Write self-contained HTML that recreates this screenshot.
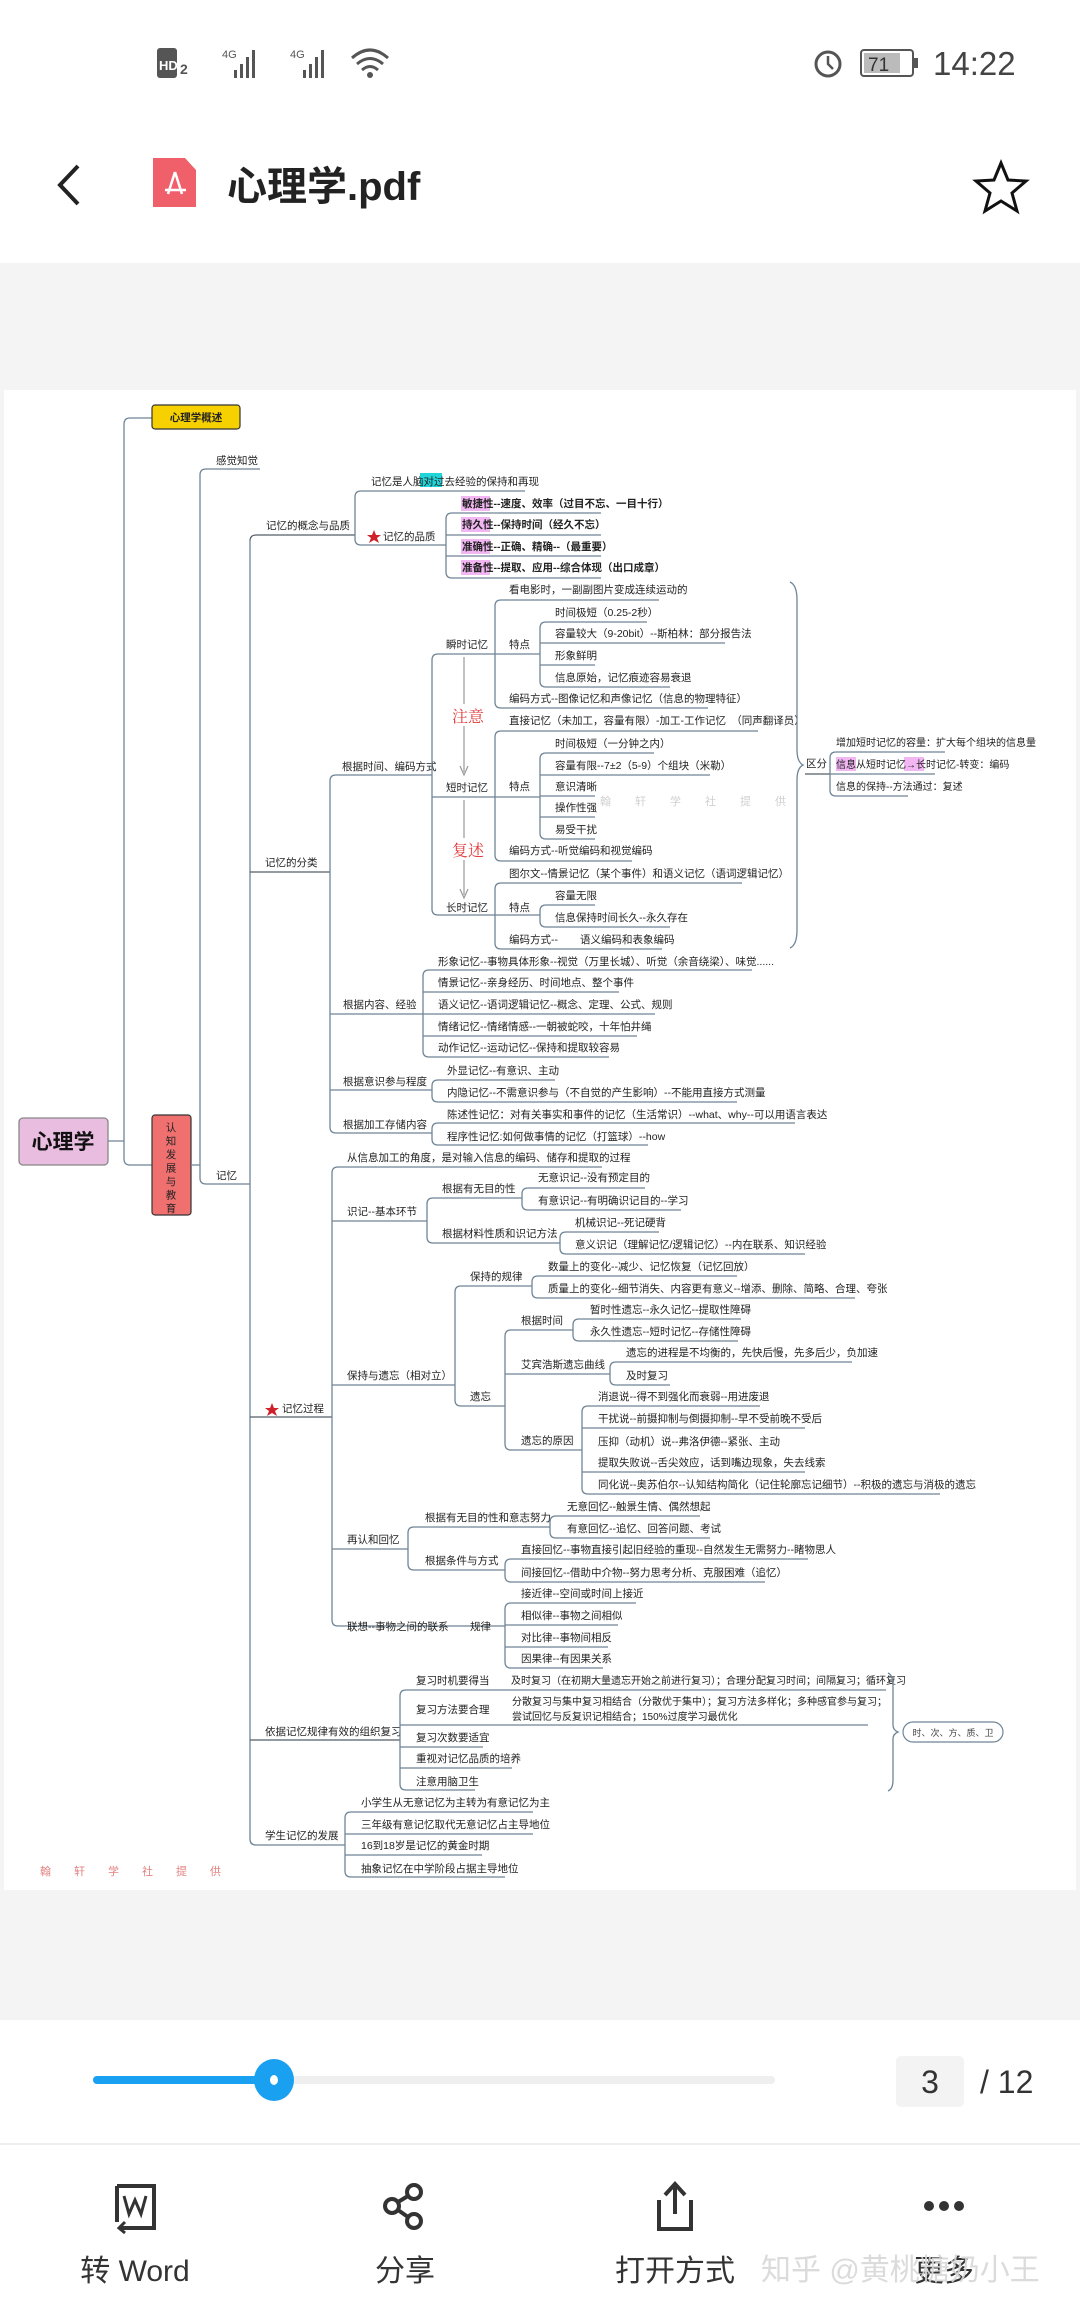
<!DOCTYPE html>
<html><head><meta charset="utf-8"><style>
html,body{margin:0;padding:0;background:#fff;width:1080px;height:2310px;overflow:hidden}
svg{display:block}
.t{font-family:"Liberation Sans","Noto Sans CJK SC",sans-serif;font-size:10.5px;fill:#222}
.b{font-weight:bold}
.l{stroke:#6f8596;stroke-width:1.3;fill:none}
.u{stroke:#555f68;stroke-width:1.2;fill:none}
.ui{font-family:"Liberation Sans","Noto Sans CJK SC",sans-serif}
</style></head><body>
<svg width="1080" height="2310" viewBox="0 0 1080 2310" xmlns="http://www.w3.org/2000/svg">
<rect x="157" y="48" width="20" height="30" rx="3" fill="#555"/>
<text x="159" y="70" class="ui" font-size="13" font-weight="bold" fill="#fff">HD</text>
<text x="180" y="74" class="ui" font-size="14" font-weight="bold" fill="#555">2</text>
<text x="222" y="58" class="ui" font-size="11" fill="#555">4G</text>
<g fill="#555"><rect x="234" y="70" width="3" height="8"/><rect x="240" y="64" width="3" height="14"/><rect x="246" y="57" width="3" height="21"/><rect x="252" y="50" width="3" height="28"/></g>
<text x="290" y="58" class="ui" font-size="11" fill="#555">4G</text>
<g fill="#555"><rect x="303" y="70" width="3" height="8"/><rect x="309" y="64" width="3" height="14"/><rect x="315" y="57" width="3" height="21"/><rect x="321" y="50" width="3" height="28"/></g>
<path d="M352 58 Q370 42 388 58 M357 64 Q370 53 383 64 M362 70 Q370 63 378 70" stroke="#555" stroke-width="3" fill="none"/>
<circle cx="370" cy="75" r="3" fill="#555"/>
<circle cx="828" cy="64" r="12" stroke="#555" stroke-width="3" fill="none"/>
<path d="M828 56 V64 L833 69" stroke="#555" stroke-width="2.5" fill="none"/>
<rect x="861" y="50" width="52" height="26" rx="3" stroke="#555" stroke-width="2" fill="none"/>
<rect x="864" y="53" width="36" height="20" fill="#bbb"/>
<rect x="914" y="58" width="4" height="10" fill="#555"/>
<text x="868" y="71" class="ui" font-size="19" fill="#333">71</text>
<text x="933" y="75" class="ui" font-size="33" fill="#444">14:22</text>
<path d="M78 166 L60 185 L78 204" stroke="#222" stroke-width="4" fill="none"/>
<path d="M153 158 H185 L196 170 V207 H153 Z" fill="#f0606a"/>
<path d="M175 172 L168 194 M175 172 L182 194 M165 190 L186 190" stroke="#fff" stroke-width="2.5" fill="none"/>
<text x="227" y="200" class="ui" font-size="40" font-weight="bold" fill="#222">心理学.pdf</text>
<path d="M1001 163 L1008 180 L1026 181 L1012 193 L1017 211 L1001 201 L985 211 L990 193 L976 181 L994 180 Z" stroke="#111" stroke-width="3" fill="none"/>
<rect x="0" y="263" width="1080" height="1757" fill="#f4f4f4"/>
<rect x="4" y="390" width="1072" height="1500" fill="#fff"/>

<rect x="19" y="1118" width="89" height="47" rx="4" fill="#e8bde0" stroke="#888" stroke-width="1.3"/>
<text x="63" y="1149" text-anchor="middle" class="t b" style="font-size:21px;fill:#111">心理学</text>
<path class="l" d="M108 1141 H124 M124 424 Q124 418 130 418 H152 M124 424 V1159 Q124 1165 130 1165 H152"/>
<rect x="152" y="405" width="88" height="24" rx="3" fill="#f7d000" stroke="#333" stroke-width="1.2"/>
<text x="196" y="421" text-anchor="middle" class="t b">心理学概述</text>
<rect x="152" y="1115" width="39" height="100" rx="3" fill="#f07070" stroke="#333" stroke-width="1.2"/>
<g class="t" text-anchor="middle" style="font-size:10.5px">
<text x="171" y="1131">认</text><text x="171" y="1144.5">知</text><text x="171" y="1158">发</text><text x="171" y="1171.5">展</text><text x="171" y="1185">与</text><text x="171" y="1198.5">教</text><text x="171" y="1212">育</text></g>
<path class="l" d="M191 1165 H200 M200 475 Q200 469 206 469 H260 M200 475 V1178 Q200 1184 206 1184 H250"/>
<text x="216" y="464" class="t">感觉知觉</text>
<text x="216" y="1179" class="t">记忆</text>
<path class="l" d="M250 541 V1839 Q250 1845 256 1845 H345"/>
<path class="u" d="M250 541 Q250 535 256 535 H355"/>
<text x="266" y="529" class="t">记忆的概念与品质</text>
<path class="u" d="M250 872 H330"/><text x="265" y="866" class="t">记忆的分类</text>
<path class="u" d="M250 1417 H332"/>
<polygon points="272,1403 274,1408 279,1408 275,1411 277,1416 272,1413 267,1416 269,1411 265,1408 270,1408" fill="#d0202a"/>
<text x="282" y="1412" class="t">记忆过程</text>
<path class="u" d="M250 1740 H400"/><text x="265" y="1735" class="t">依据记忆规律有效的组织复习</text>
<text x="265" y="1839" class="t">学生记忆的发展</text>

<path class="l" d="M355 497 Q355 491 361 491 H525 M355 497 V539 Q355 545 361 545 H446"/>
<rect x="420" y="473" width="22" height="14" fill="#21d4d8"/>
<text x="371" y="485" class="t">记忆是人脑对过去经验的保持和再现</text>
<polygon points="374,530 376,535 381,535 377,538 379,543 374,540 369,543 371,538 367,535 372,535" fill="#d0202a"/>
<text x="383" y="540" class="t">记忆的品质</text>
<path class="l" d="M446 519 Q446 513 452 513 H601 M446 519 V572 Q446 578 452 578 H601 M446 535 H601 M446 556 H601"/>
<rect x="461" y="496" width="29" height="15" fill="#f2b6f2"/><rect x="461" y="517" width="29" height="15" fill="#f2b6f2"/>
<rect x="461" y="539" width="29" height="15" fill="#f2b6f2"/><rect x="461" y="560" width="29" height="15" fill="#f2b6f2"/>
<text x="462" y="507" class="t b">敏捷性--速度、效率（过目不忘、一目十行）</text>
<text x="462" y="528" class="t b">持久性--保持时间（经久不忘）</text>
<text x="462" y="550" class="t b">准确性--正确、精确--（最重要）</text>
<text x="462" y="571" class="t b">准备性--提取、应用--综合体现（出口成章）</text>

<path class="l" d="M330 781 Q330 775 336 775 H432 M330 781 V1127 Q330 1133 336 1133 H432 M330 1014 H423 M330 1090 H432"/>
<text x="342" y="770" class="t">根据时间、编码方式</text>
<text x="343" y="1008" class="t">根据内容、经验</text>
<text x="343" y="1085" class="t">根据意识参与程度</text>
<text x="343" y="1128" class="t">根据加工存储内容</text>

<path class="l" d="M432 660 Q432 654 438 654 H495 M432 660 V909 Q432 915 438 915 H495 M432 797 H495"/>
<text x="446" y="648" class="t">瞬时记忆</text>
<text x="446" y="791" class="t">短时记忆</text>
<text x="446" y="911" class="t">长时记忆</text>
<path d="M464 657 V772 M464 800 V895" stroke="#999" stroke-width="1.2"/>
<path d="M460 766 L464 775 L468 766 M460 889 L464 898 L468 889" stroke="#999" stroke-width="1.2" fill="none"/>
<rect x="450" y="704" width="34" height="22" fill="#fff"/><rect x="450" y="838" width="34" height="22" fill="#fff"/>
<text x="452" y="722" style="font-family:'Liberation Serif','Noto Serif CJK SC',serif;font-size:16px;fill:#e23b3b">注意</text>
<text x="452" y="856" style="font-family:'Liberation Serif','Noto Serif CJK SC',serif;font-size:16px;fill:#e23b3b">复述</text>
<path class="l" d="M495 606 Q495 600 501 600 H659 M495 606 V702 Q495 708 501 708 H708 M495 654 H540"/>
<text x="509" y="593" class="t">看电影时，一副副图片变成连续运动的</text>
<text x="509" y="648" class="t">特点</text>
<text x="509" y="702" class="t">编码方式--图像记忆和声像记忆（信息的物理特征）</text>
<path class="l" d="M540 628 Q540 622 546 622 H647 M540 628 V681 Q540 687 546 687 H670 M540 643 H725 M540 665 H595"/>
<text x="555" y="616" class="t">时间极短（0.25-2秒）</text>
<text x="555" y="637" class="t">容量较大（9-20bit）--斯柏林：部分报告法</text>
<text x="555" y="659" class="t">形象鲜明</text>
<text x="555" y="681" class="t">信息原始，记忆痕迹容易衰退</text>
<path class="l" d="M495 737 Q495 731 501 731 H758 M495 737 V855 Q495 861 501 861 H632 M495 797 H540"/>
<text x="509" y="724" class="t">直接记忆（未加工，容量有限）-加工-工作记忆　（同声翻译员）</text>
<text x="509" y="790" class="t">特点</text>
<text x="509" y="854" class="t">编码方式--听觉编码和视觉编码</text>
<path class="l" d="M540 759 Q540 753 546 753 H654 M540 759 V833 Q540 839 546 839 H595 M540 775 H710 M540 796 H595 M540 817 H595"/>
<text x="555" y="747" class="t">时间极短（一分钟之内）</text>
<text x="555" y="769" class="t">容量有限--7±2（5-9）个组块（米勒）</text>
<text x="555" y="790" class="t">意识清晰</text>
<text x="555" y="811" class="t">操作性强</text>
<text x="555" y="833" class="t">易受干扰</text>
<path class="l" d="M495 889 Q495 883 501 883 H742 M495 889 V943 Q495 949 501 949 H662 M495 915 H540"/>
<text x="509" y="877" class="t">图尔文--情景记忆（某个事件）和语义记忆（语词逻辑记忆）</text>
<text x="509" y="911" class="t">特点</text>
<text x="509" y="943" class="t">编码方式--</text><text x="580" y="943" class="t">语义编码和表象编码</text>
<path class="l" d="M540 911 Q540 905 546 905 H595 M540 911 V921 Q540 927 546 927 H670"/>
<text x="555" y="899" class="t">容量无限</text>
<text x="555" y="921" class="t">信息保持时间长久--永久存在</text>
<path class="l" d="M790 582 Q797 585 797 600 V750 Q797 762 803 765 Q797 768 797 780 V930 Q797 945 790 948"/>
<path class="u" d="M805 774 H830"/><text x="806" y="767" class="t">区分</text>
<path class="l" d="M830 758 Q830 752 836 752 H945 M830 758 V790 Q830 796 836 796 H908 M830 774 H935"/>
<rect x="836" y="757" width="20" height="14" fill="#f2b6f2"/><rect x="904" y="757" width="20" height="14" fill="#f2b6f2"/>
<text x="836" y="746" class="t" style="font-size:10px">增加短时记忆的容量：扩大每个组块的信息量</text>
<text x="836" y="768" class="t" style="font-size:10px">信息从短时记忆→长时记忆-转变：编码</text>
<text x="836" y="790" class="t" style="font-size:10px">信息的保持--方法通过：复述</text>

<path class="l" d="M423 976 Q423 970 429 970 H752 M423 976 V1051 Q423 1057 429 1057 H609 M423 992 H619 M423 1014 H655 M423 1036 H637"/>
<text x="438" y="965" class="t">形象记忆--事物具体形象--视觉（万里长城）、听觉（余音绕梁）、味觉......</text>
<text x="438" y="986" class="t">情景记忆--亲身经历、时间地点、整个事件</text>
<text x="438" y="1008" class="t">语义记忆--语词逻辑记忆--概念、定理、公式、规则</text>
<text x="438" y="1030" class="t">情绪记忆--情绪情感--一朝被蛇咬，十年怕井绳</text>
<text x="438" y="1051" class="t">动作记忆--运动记忆--保持和提取较容易</text>
<path class="l" d="M432 1086 Q432 1080 438 1080 H555 M432 1086 V1096 Q432 1102 438 1102 H737"/>
<text x="447" y="1074" class="t">外显记忆--有意识、主动</text>
<text x="447" y="1096" class="t">内隐记忆--不需意识参与（不自觉的产生影响）--不能用直接方式测量</text>
<path class="l" d="M432 1129 Q432 1123 438 1123 H795 M432 1129 V1139 Q432 1145 438 1145 H648"/>
<text x="447" y="1118" class="t">陈述性记忆：对有关事实和事件的记忆（生活常识）--what、why--可以用语言表达</text>
<text x="447" y="1140" class="t">程序性记忆:如何做事情的记忆（打篮球）--how</text>

<path class="l" d="M332 1173 Q332 1167 338 1167 H602 M332 1173 V1620 Q332 1626 338 1626 H505 M332 1221 H427 M332 1385 H455 M332 1549 H408"/>
<text x="347" y="1161" class="t">从信息加工的角度，是对输入信息的编码、储存和提取的过程</text>
<text x="347" y="1215" class="t">识记--基本环节</text>
<text x="347" y="1379" class="t">保持与遗忘（相对立）</text>
<text x="347" y="1543" class="t">再认和回忆</text>
<text x="347" y="1630" class="t">联想--事物之间的联系</text>
<text x="470" y="1630" class="t">规律</text>
<path class="l" d="M427 1204 Q427 1198 433 1198 H522 M427 1204 V1237 Q427 1243 433 1243 H560"/>
<text x="442" y="1192" class="t">根据有无目的性</text>
<text x="442" y="1237" class="t">根据材料性质和识记方法</text>
<path class="l" d="M522 1194 Q522 1188 528 1188 H645 M522 1194 V1204 Q522 1210 528 1210 H681"/>
<text x="538" y="1181" class="t">无意识记--没有预定目的</text>
<text x="538" y="1204" class="t">有意识记--有明确识记目的--学习</text>
<path class="l" d="M560 1238 Q560 1232 566 1232 H659 M560 1238 V1248 Q560 1254 566 1254 H805"/>
<text x="575" y="1226" class="t">机械识记--死记硬背</text>
<text x="575" y="1248" class="t">意义识记（理解记忆/逻辑记忆）--内在联系、知识经验</text>
<path class="l" d="M455 1292 Q455 1286 461 1286 H532 M455 1292 V1400 Q455 1406 461 1406 H505"/>
<text x="470" y="1280" class="t">保持的规律</text>
<text x="470" y="1400" class="t">遗忘</text>
<path class="l" d="M532 1282 Q532 1276 538 1276 H737 M532 1282 V1292 Q532 1298 538 1298 H855"/>
<text x="548" y="1270" class="t">数量上的变化--减少、记忆恢复（记忆回放）</text>
<text x="548" y="1292" class="t">质量上的变化--细节消失、内容更有意义--增添、删除、简略、合理、夸张</text>
<path class="l" d="M505 1336 Q505 1330 511 1330 H573 M505 1336 V1444 Q505 1450 511 1450 H582 M505 1374 H610"/>
<text x="521" y="1324" class="t">根据时间</text>
<text x="521" y="1368" class="t">艾宾浩斯遗忘曲线</text>
<text x="521" y="1444" class="t">遗忘的原因</text>
<path class="l" d="M573 1325 Q573 1319 579 1319 H741 M573 1325 V1335 Q573 1341 579 1341 H738"/>
<text x="590" y="1313" class="t">暂时性遗忘--永久记忆--提取性障碍</text>
<text x="590" y="1335" class="t">永久性遗忘--短时记忆--存储性障碍</text>
<path class="l" d="M610 1368 Q610 1362 616 1362 H852 M610 1368 V1379 Q610 1385 616 1385 H670"/>
<text x="626" y="1356" class="t">遗忘的进程是不均衡的，先快后慢，先多后少，负加速</text>
<text x="626" y="1379" class="t">及时复习</text>
<path class="l" d="M582 1412 Q582 1406 588 1406 H760 M582 1412 V1488 Q582 1494 588 1494 H940 M582 1428 H805 M582 1472 H805"/>
<text x="598" y="1400" class="t">消退说--得不到强化而衰弱--用进废退</text>
<text x="598" y="1422" class="t">干扰说--前摄抑制与倒摄抑制--早不受前晚不受后</text>
<text x="598" y="1445" class="t">压抑（动机）说--弗洛伊德--紧张、主动</text>
<text x="598" y="1466" class="t">提取失败说--舌尖效应，话到嘴边现象，失去线索</text>
<text x="598" y="1488" class="t">同化说--奥苏伯尔--认知结构简化（记住轮廓忘记细节）--积极的遗忘与消极的遗忘</text>
<path class="l" d="M408 1533 Q408 1527 414 1527 H550 M408 1533 V1564 Q408 1570 414 1570 H505"/>
<text x="425" y="1521" class="t">根据有无目的性和意志努力</text>
<text x="425" y="1564" class="t">根据条件与方式</text>
<path class="l" d="M550 1522 Q550 1516 556 1516 H700 M550 1522 V1532 Q550 1538 556 1538 H710"/>
<text x="567" y="1510" class="t">无意回忆--触景生情、偶然想起</text>
<text x="567" y="1532" class="t">有意回忆--追忆、回答问题、考试</text>
<path class="l" d="M505 1565 Q505 1559 511 1559 H808 M505 1565 V1576 Q505 1582 511 1582 H765"/>
<text x="521" y="1553" class="t">直接回忆--事物直接引起旧经验的重现--自然发生无需努力--睹物思人</text>
<text x="521" y="1576" class="t">间接回忆--借助中介物--努力思考分析、克服困难（追忆）</text>
<path class="l" d="M505 1609 Q505 1603 511 1603 H636 M505 1609 V1662 Q505 1668 511 1668 H603 M505 1625 H618 M505 1647 H608"/>
<text x="521" y="1597" class="t">接近律--空间或时间上接近</text>
<text x="521" y="1619" class="t">相似律--事物之间相似</text>
<text x="521" y="1641" class="t">对比律--事物间相反</text>
<text x="521" y="1662" class="t">因果律--有因果关系</text>
<path class="l" d="M400 1696 Q400 1690 406 1690 H886 M400 1696 V1784 Q400 1790 406 1790 H475 M400 1725 H868 M400 1747 H483 M400 1768 H512"/>
<text x="416" y="1684" class="t">复习时机要得当</text>
<text x="416" y="1713" class="t">复习方法要合理</text>
<text x="416" y="1741" class="t">复习次数要适宜</text>
<text x="416" y="1762" class="t">重视对记忆品质的培养</text>
<text x="416" y="1785" class="t">注意用脑卫生</text>
<text x="511" y="1684" class="t" style="font-size:10px">及时复习（在初期大量遗忘开始之前进行复习）；合理分配复习时间；间隔复习；循环复习</text>
<text x="512" y="1705" class="t" style="font-size:10px">分散复习与集中复习相结合（分散优于集中）；复习方法多样化；多种感官参与复习；</text>
<text x="512" y="1720" class="t" style="font-size:10px">尝试回忆与反复识记相结合；150%过度学习最优化</text>
<path class="l" d="M888 1673 Q893 1675 893 1685 V1725 Q893 1730 898 1732 Q893 1734 893 1739 V1780 Q893 1789 888 1791"/>
<rect x="903" y="1722" width="100" height="20" rx="10" fill="#fff" stroke="#6f8596" stroke-width="1.2"/>
<text x="953" y="1736" text-anchor="middle" class="t" style="font-size:9px;fill:#444">时、次、方、质、卫</text>
<path class="l" d="M345 1818 Q345 1812 351 1812 H533 M345 1818 V1871 Q345 1877 351 1877 H505 M345 1834 H533 M345 1855 H482"/>
<text x="361" y="1806" class="t">小学生从无意记忆为主转为有意记忆为主</text>
<text x="361" y="1828" class="t">三年级有意记忆取代无意记忆占主导地位</text>
<text x="361" y="1849" class="t">16到18岁是记忆的黄金时期</text>
<text x="361" y="1872" class="t">抽象记忆在中学阶段占据主导地位</text>
<text x="40" y="1875" class="t" style="font-size:11px;fill:#e48080;letter-spacing:23px">翰轩学社提供</text>
<text x="600" y="805" class="t" style="font-size:11px;fill:#d0d0d0;letter-spacing:24px">翰轩学社提供</text>

<rect x="93" y="2076" width="682" height="8" rx="4" fill="#efefef"/>
<rect x="93" y="2076" width="181" height="8" rx="4" fill="#1aa0f0"/>
<ellipse cx="274" cy="2080" rx="20" ry="21" fill="#1aa0f0"/>
<ellipse cx="274" cy="2080" rx="4" ry="5" fill="#fff"/>
<rect x="896" y="2056" width="68" height="51" rx="5" fill="#f3f3f3"/>
<text x="930" y="2093" text-anchor="middle" class="ui" font-size="32" fill="#333">3</text>
<text x="980" y="2093" class="ui" font-size="32" fill="#333">/ 12</text>
<rect x="0" y="2143" width="1080" height="2" fill="#eee"/>
<path d="M117 2186 H154 V2228 H120 M117 2186 V2222" stroke="#333" stroke-width="4" fill="none"/>
<path d="M125 2222 L119 2228 L125 2233" stroke="#333" stroke-width="3" fill="none"/>
<path d="M124 2196 L129 2214 L135 2200 L141 2214 L146 2196" stroke="#333" stroke-width="3" fill="none"/>
<circle cx="392" cy="2206" r="7" stroke="#333" stroke-width="4" fill="none"/>
<circle cx="414" cy="2192" r="7" stroke="#333" stroke-width="4" fill="none"/>
<circle cx="414" cy="2221" r="7" stroke="#333" stroke-width="4" fill="none"/>
<path d="M398 2202 L408 2196 M398 2210 L408 2217" stroke="#333" stroke-width="4"/>
<path d="M659 2200 V2229 H691 V2200 M675 2214 V2185 M665 2195 L675 2184 L685 2195" stroke="#333" stroke-width="4" fill="none"/>
<circle cx="929" cy="2206" r="5" fill="#333"/><circle cx="944" cy="2206" r="5" fill="#333"/><circle cx="959" cy="2206" r="5" fill="#333"/>
<g class="ui" font-size="30" fill="#333" text-anchor="middle">
<text x="135" y="2281">转 Word</text><text x="405" y="2281">分享</text><text x="675" y="2281">打开方式</text><text x="944" y="2281">更多</text></g>
<text x="761" y="2280" class="ui" font-size="30" fill="#d8d8d8" opacity="0.9">知乎 @黄桃糖奶小王</text>
</svg>
</body></html>
